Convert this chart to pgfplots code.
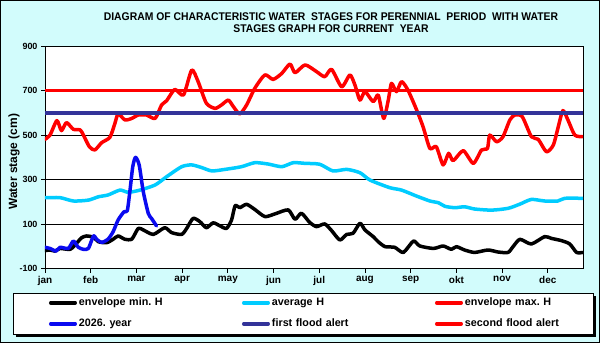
\documentclass[border=0pt]{standalone}
\usepackage{fontspec}
\setmainfont{Liberation Sans}
\newfontfamily\titlefont[FakeStretch=0.93]{Liberation Sans}
\usepackage{pgfplots}
\pgfplotsset{compat=1.18}

\definecolor{bgcyan}{RGB}{210,252,252}
\definecolor{avgcyan}{RGB}{0,204,255}
\definecolor{maxred}{RGB}{255,0,0}
\definecolor{yearblue}{RGB}{10,10,240}
\definecolor{alertnavy}{RGB}{51,51,153}

\begin{document}
\frenchspacing
\begin{tikzpicture}
% page background and frame
\fill[bgcyan] (0bp,0bp) rectangle (600bp,343bp);
\draw[black, line width=1bp] (0.5bp,0.5bp) rectangle (599.5bp,342.5bp);
% legend box with shadow
\fill[black] (16bp,6bp) rectangle (596bp,47bp);
\filldraw[fill=white, draw=black, line width=0.8bp] (13bp,9bp) rectangle (593bp,50bp);

\begin{axis}[
  at={(45bp,74.3bp)}, anchor=south west,
  width=538bp, height=222.7bp, scale only axis,
  xmin=0, xmax=11.77, ymin=-100, ymax=900,
  xtick={0,1,2,3,4,5,6,7,8,9,10,11},
  xticklabels={jan,feb,mar,apr,may,jun,jul,aug,sep,okt,nov,dec},
  ytick={-100,100,300,500,700,900},
  ymajorgrids, grid style={black, line width=0.7bp},
  axis line style={black, line width=0.8bp},
  axis background/.style={fill=white},
  tick align=outside, major tick length=4bp,
  tick style={black, line width=0.7bp},
  xtick pos=bottom, ytick pos=left,
  /pgf/number format/assume math mode=true,
  yticklabel style={font=\bfseries\fontsize{9}{10}\selectfont},
  xticklabel style={font=\bfseries\fontsize{10}{11}\selectfont},
  ylabel={Water stage (cm)},
  ylabel style={font=\bfseries\fontsize{12}{13}\selectfont,
                at={(axis description cs:-0.0576,0.48)}, anchor=center},
  legend columns=3,
  legend image code/.code={\draw[#1, line width=3.5bp, line cap=round] (1.75bp,3.2bp) -- (26.25bp,3.2bp);},
  legend style={draw=none, fill=none, inner sep=0pt, outer sep=0pt,
                at={(axis description cs:0.00743,-0.1293)}, anchor=north west,
                row sep=10bp,
                nodes={inner sep=0pt, text height=8.5bp, text depth=2.5bp,
                       text width=163bp, anchor=base west,
                       font=\bfseries\fontsize{10.8}{12}\selectfont},
                /tikz/every odd column/.style={column sep=2bp}},
  legend cell align=left,
  every axis plot/.append style={line width=3.5bp, line cap=round, line join=round},
]
% envelope min
\addplot[black, smooth, tension=0.4] coordinates {
(0,-19)(0.11,-16)(0.22,-21)(0.33,-9)(0.55,-13)(0.69,14)(0.80,39)(0.91,47)(1.06,41)(1.17,21)
(1.35,17)(1.49,32)(1.60,47)(1.75,32)(1.90,33)(2.04,81)(2.15,74)(2.37,54)(2.62,84)(2.77,62)
(2.99,54)(3.10,81)(3.24,126)(3.39,111)(3.53,84)(3.68,106)(3.83,92)(3.97,81)(4.08,118)(4.16,183)
(4.26,174)(4.41,189)(4.59,166)(4.81,134)(5.03,146)(5.32,164)(5.47,122)(5.61,149)(5.79,108)(5.94,89)
(6.12,101)(6.27,71)(6.45,29)(6.60,54)(6.74,59)(6.89,104)(7.0,74)(7.18,44)(7.29,21)(7.44,-1)
(7.65,-4)(7.84,-27)(8.06,24)(8.20,2)(8.50,-9)(8.71,2)(8.89,-13)(9.0,-1)(9.18,-16)(9.40,-27)
(9.69,-16)(9.91,-25)(10.13,-27)(10.24,-1)(10.39,32)(10.64,11)(10.93,44)(11.08,36)(11.30,26)(11.48,11)
(11.63,-27)(11.76,-27)};
\addlegendentry{envelope min. H}
% average
\addplot[avgcyan, smooth, tension=0.4] coordinates {
(0,219)(0.33,219)(0.62,204)(0.95,208)(1.17,223)(1.38,231)(1.64,253)(1.82,243)(2.08,253)(2.41,276)
(2.66,313)(2.99,358)(3.21,366)(3.43,354)(3.65,339)(3.94,346)(4.30,358)(4.59,376)(4.88,370)(5.18,358)
(5.43,376)(5.69,373)(6.01,369)(6.30,339)(6.60,346)(6.89,331)(7.11,298)(7.54,264)(7.80,253)(8.13,226)
(8.42,204)(8.61,196)(8.75,180)(8.97,174)(9.18,178)(9.40,168)(9.77,163)(10.13,171)(10.39,190)(10.64,211)
(10.93,204)(11.22,204)(11.37,216)(11.76,216)};
\addlegendentry{average H}
% envelope max
\addplot[maxred, smooth, tension=0.4] coordinates {
(0,481)(0.11,500)(0.26,565)(0.36,520)(0.47,556)(0.62,526)(0.77,523)(0.84,500)(0.97,448)(1.09,433)
(1.24,466)(1.42,490)(1.53,553)(1.60,595)(1.75,568)(1.90,575)(2.04,590)(2.22,590)(2.41,575)(2.55,635)
(2.66,654)(2.84,705)(3.03,680)(3.21,792)(3.35,740)(3.53,643)(3.72,620)(3.86,635)(4.01,657)(4.12,628)
(4.26,595)(4.41,635)(4.59,710)(4.81,770)(4.99,750)(5.18,777)(5.36,819)(5.47,780)(5.69,815)(5.94,785)
(6.12,762)(6.27,795)(6.49,717)(6.67,770)(6.78,725)(6.89,657)(7.0,695)(7.18,650)(7.29,680)(7.41,575)
(7.51,657)(7.58,732)(7.69,695)(7.80,740)(7.94,702)(8.13,613)(8.27,538)(8.42,440)(8.56,448)(8.71,366)
(8.83,418)(8.93,385)(9.15,430)(9.37,373)(9.55,433)(9.68,440)(9.73,500)(9.88,470)(10.02,493)(10.17,568)
(10.28,590)(10.44,583)(10.64,493)(10.79,481)(10.97,425)(11.12,455)(11.23,538)(11.33,610)(11.44,568)(11.59,500)
(11.76,493)};
\addlegendentry{envelope max. H}
% current year
\addplot[yearblue, smooth, tension=0.4] coordinates {
(0,-4)(0.11,-9)(0.24,-21)(0.33,-4)(0.51,-9)(0.62,24)(0.73,-4)(0.84,-13)(0.95,-9)(1.06,47)
(1.13,32)(1.24,18)(1.38,33)(1.49,66)(1.60,119)(1.73,156)(1.80,160)(1.86,253)(1.92,358)(1.98,400)
(2.06,366)(2.15,246)(2.26,148)(2.33,126)(2.44,92)};
\addlegendentry{2026. year}
% flood alerts
\addplot[alertnavy, line cap=butt] coordinates {(0,600)(11.77,600)};
\addlegendentry{first flood alert}
\addplot[maxred, line cap=butt] coordinates {(0,700)(11.77,700)};
\addlegendentry{second flood alert}
\end{axis}

\node[font=\titlefont\bfseries\fontsize{11.2}{12}\selectfont, align=center]
  at (331bp,320.3bp) {DIAGRAM OF CHARACTERISTIC WATER\ \ STAGES FOR PERENNIAL\ \ PERIOD\ \ WITH WATER\\STAGES GRAPH FOR CURRENT\ \ YEAR};
% the picture is exactly the page; legend cells may reach past the right edge
\pgfresetboundingbox
\useasboundingbox (0bp,0bp) rectangle (600bp,343bp);
\end{tikzpicture}
\end{document}
